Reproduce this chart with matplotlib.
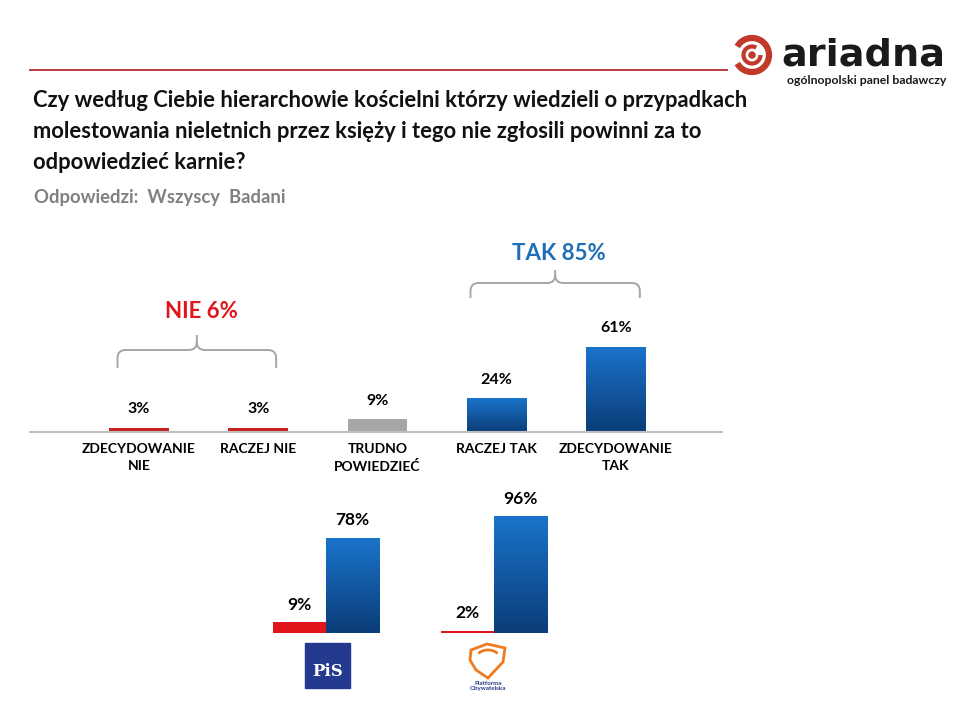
import numpy as np
import matplotlib
matplotlib.use("Agg")
import matplotlib.pyplot as plt
from matplotlib.colors import LinearSegmentedColormap
from matplotlib.path import Path
from matplotlib.patches import PathPatch, Rectangle, Arc, Circle, Polygon

plt.rcParams["font.family"] = ["Lato", "DejaVu Sans"]

# ── data ──────────────────────────────────────────────────────────────────────
categories = ["ZDECYDOWANIE\nNIE", "RACZEJ NIE", "TRUDNO\nPOWIEDZIEĆ",
              "RACZEJ TAK", "ZDECYDOWANIE\nTAK"]
values = [3, 3, 9, 24, 61]
nie_total = 6
tak_total = 85

parties = ["PiS", "Platforma Obywatelska"]
party_nie = [9, 2]
party_tak = [78, 96]

title = ("Czy według Ciebie hierarchowie kościelni którzy wiedzieli o przypadkach\n"
         "molestowania nieletnich przez księży i tego nie zgłosili powinni za to\n"
         "odpowiedzieć karnie?")
subtitle = "Odpowiedzi:  Wszyscy  Badani"

# ── styling ───────────────────────────────────────────────────────────────────
RED = "#C8201F"
RED_BRIGHT = "#E0161C"
GREY = "#A6A6A6"
BLUE_TXT = "#1F6FB8"
blue_grad = LinearSegmentedColormap.from_list("bg", ["#1A74CC", "#0B3D78"])

W, H = 960, 720
fig = plt.figure(figsize=(W / 100, H / 100), dpi=100)

# overlay in pixel coords (top-down)
ov = fig.add_axes([0, 0, 1, 1], zorder=0)
ov.set_xlim(0, W)
ov.set_ylim(H, 0)
ov.axis("off")


def px_axes(left, top, width, height, **kw):
    return fig.add_axes([left / W, (H - top - height) / H, width / W, height / H], **kw)


def to_px(ax, x, y):
    dx, dy = ax.transData.transform((x, y))
    return dx, H - dy


def gradient_bars(ax, bars):
    arr = np.linspace(0, 1, 256).reshape(-1, 1)
    for b in bars:
        x0, w, h = b.get_x(), b.get_width(), b.get_height()
        im = ax.imshow(arr, cmap=blue_grad, extent=[x0, x0 + w, 0, h],
                       origin="upper", aspect="auto", zorder=2)
        im.set_clip_path(b)


def brace(x0, x1, y_h, y_end, y_peak, r=8):
    xm = (x0 + x1) / 2
    verts = [(x0, y_end), (x0, y_h + r), (x0, y_h), (x0 + r, y_h),
             (xm - r, y_h), (xm, y_h), (xm, y_h - r), (xm, y_peak),
             (xm, y_h - r), (xm, y_h), (xm + r, y_h),
             (x1 - r, y_h), (x1, y_h), (x1, y_h + r), (x1, y_end)]
    codes = [Path.MOVETO, Path.LINETO, Path.CURVE3, Path.CURVE3,
             Path.LINETO, Path.CURVE3, Path.CURVE3, Path.LINETO,
             Path.MOVETO, Path.CURVE3, Path.CURVE3,
             Path.LINETO, Path.CURVE3, Path.CURVE3, Path.LINETO]
    ov.add_patch(PathPatch(Path(verts, codes), fill=False, ec=GREY, lw=1.4))
    return xm


# ── header ────────────────────────────────────────────────────────────────────
ov.plot([30, 727], [70, 70], color="#B83C3C", lw=1.4)
ov.text(33, 90, title, fontsize=15.8, fontweight="bold", color="#111111",
        va="top", ha="left", linespacing=1.58)
ov.text(34, 198, subtitle, fontsize=13.3, fontweight="bold", color="#808080",
        va="center", ha="left")

# ariadna logo
ov.add_patch(Arc((752, 55), 34, 34, theta1=210, theta2=150, color="#C0392B", lw=4.5))
ov.add_patch(Arc((752, 55), 17, 17, theta1=0, theta2=300, color="#C0392B", lw=3))
ov.add_patch(Circle((752, 55), 3, color="#C0392B"))
ov.text(945, 55, "ariadna", fontsize=27.5, fontweight="bold", color="#1A1A1A",
        family=["DejaVu Sans"], va="center", ha="right")
ov.text(946, 81, "ogólnopolski panel badawczy", fontsize=8.8, fontweight="bold",
        color="#1A1A1A", va="center", ha="right")

# ── main chart ────────────────────────────────────────────────────────────────
ax = px_axes(30, 292, 692, 140, zorder=1)
ax.patch.set_alpha(0)
x = np.arange(len(categories))
colors = [RED, RED, GREY, None, None]
bars = ax.bar(x, values, width=0.5, color=[c or "none" for c in colors], zorder=2)
gradient_bars(ax, [b for b, c in zip(bars, colors) if c is None])
ax.set_xlim(-0.914, 4.889)
ax.set_ylim(0, 100)
for s in ["top", "left", "right"]:
    ax.spines[s].set_visible(False)
ax.spines["bottom"].set_color("#BFBFBF")
ax.spines["bottom"].set_linewidth(1.5)
ax.set_yticks([])
ax.set_xticks(x)
ax.set_xticklabels(categories, fontsize=10, fontweight="bold", linespacing=1.45)
ax.tick_params(axis="x", length=0, pad=8)

for xi, v in zip(x, values):
    ax.annotate(f"{v}%", (xi, v), xytext=(0, 13.5), textcoords="offset points",
                ha="center", va="center", fontsize=11.5, fontweight="bold")

# braces
nx0, ny = to_px(ax, x[0] - 0.18, 0)
nx1, _ = to_px(ax, x[1] + 0.15, 0)
xm = brace(nx0, nx1, 350, 368, 335)
ov.text(xm + 5, 312, f"NIE {nie_total}%", color="#E0161C", fontsize=16,
        fontweight="bold", ha="center", va="center")

tx0, _ = to_px(ax, x[3] - 0.22, 0)
tx1, _ = to_px(ax, x[4] + 0.2, 0)
xm = brace(tx0, tx1, 283, 298, 270)
ov.text(xm + 4, 253, f"TAK {tak_total}%", color=BLUE_TXT, fontsize=16,
        fontweight="bold", ha="center", va="center")

# ── party chart ───────────────────────────────────────────────────────────────
bx = px_axes(200, 511, 420, 122, zorder=1)
bx.patch.set_alpha(0)
g = np.arange(len(parties))
w = 0.3155
red_bars = bx.bar(g - w / 2, party_nie, width=w, color=RED_BRIGHT, zorder=2)
blue_bars = bx.bar(g + w / 2, party_tak, width=w, color="none", zorder=2)
gradient_bars(bx, blue_bars)
bx.set_xlim(-0.75, 1.75)
bx.set_ylim(0, 100)
bx.axis("off")
for xs, vals in [(g - w / 2, party_nie), (g + w / 2, party_tak)]:
    for xi, v in zip(xs, vals):
        bx.annotate(f"{v}%", (xi, v), xytext=(0, 12.5), textcoords="offset points",
                    ha="center", va="center", fontsize=12.5, fontweight="bold")

# party logos
ov.add_patch(Rectangle((305, 643), 45, 45, color="#233A8E"))
ov.text(327.5, 672, "PiS", color="white", fontsize=12, fontweight="bold",
        family=["DejaVu Serif"], ha="center", va="center")
ov.add_patch(Polygon([(471, 650), (487, 644), (505, 648), (503, 662),
                      (488, 678), (476, 670), (470, 660)],
                     closed=True, fill=False, ec="#F07A1E", lw=2))
ov.add_patch(Arc((488, 657), 22, 14, theta1=200, theta2=340, color="#F07A1E", lw=2))
ov.text(488, 686, "Platforma\nObywatelska", color="#2B3A8A", fontsize=4.5,
        fontweight="bold", ha="center", va="center", linespacing=1.0)

fig.savefig("out.png", dpi=100)
